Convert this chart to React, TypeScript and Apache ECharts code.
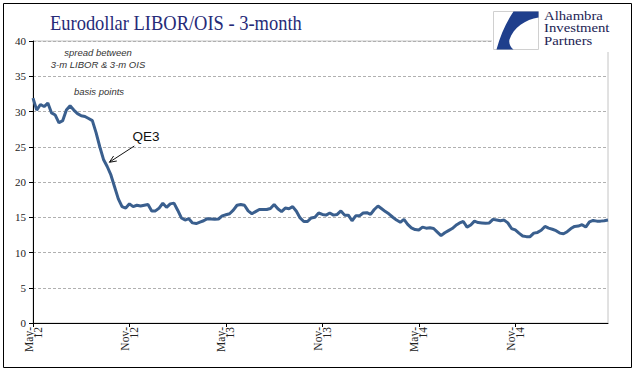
import React, { useEffect, useRef } from "react";
import * as echarts from "echarts";

// Weekly LIBOR/OIS 3-month spread (basis points), starting first week of May 2012
const spread: number[] = [
  31.9, 30.2, 31.0, 30.7, 31.2, 29.8, 29.5, 28.4, 28.7, 30.2,
  30.8, 30.2, 29.7, 29.4, 29.3, 29.0, 28.7, 27.0, 25.0, 23.2,
  22.2, 21.0, 19.3, 17.6, 16.5, 16.3, 16.9, 16.5, 16.7, 16.6,
  16.7, 16.8, 15.9, 15.9, 16.3, 17.0, 16.4, 16.9, 17.0, 16.0,
  14.9, 14.6, 14.8, 14.2, 14.1, 14.3, 14.5, 14.8, 14.75, 14.7,
  14.75, 15.2, 15.35, 15.5, 16.0, 16.7, 16.8, 16.7, 15.9, 15.5,
  15.8, 16.1, 16.1, 16.1, 16.25, 16.8, 16.2, 15.8, 16.3, 16.2,
  16.5, 15.85, 14.9, 14.4, 14.4, 14.9, 15.0, 15.6, 15.4, 15.3,
  15.6, 15.3, 15.4, 15.9, 15.3, 15.3, 14.5, 15.2, 15.2, 15.6,
  15.65, 15.4, 16.1, 16.6, 16.2, 15.8, 15.45, 15.0, 14.6, 14.3,
  14.7, 14.0, 13.5, 13.25, 13.2, 13.6, 13.45, 13.5, 13.4, 12.9,
  12.4, 12.8, 13.1, 13.4, 13.85, 14.2, 14.4, 13.6, 13.9, 14.45,
  14.25, 14.2, 14.15, 14.2, 14.7, 14.6, 14.5, 14.6, 14.2, 13.4,
  13.2, 12.75, 12.35, 12.25, 12.25, 12.75, 12.85, 13.15, 13.7, 13.45,
  13.3, 13.1, 12.75, 12.65, 12.95, 13.4, 13.7, 13.75, 13.95, 13.6,
  14.35, 14.55, 14.45, 14.45, 14.5, 14.6,
];

const startDateUTC = Date.UTC(2012, 4, 4);
const weeks: string[] = spread.map((_, i) => {
  const d = new Date(startDateUTC + i * 7 * 86400000);
  return d.toISOString().slice(0, 10);
});

const tickLabels = ["May-12", "Nov-12", "May-13", "Nov-13", "May-14", "Nov-14"];
const tickWeeks = [0, 26, 52, 78, 104, 130];

const titleText = "Eurodollar LIBOR/OIS - 3-month";
const noteLines = ["spread between", "3-m LIBOR & 3-m OIS"];
const unitText = "basis points";
const qeText = "QE3";
const logoLines = ["Alhambra", "Investment", "Partners"];

const logoPath =
  "M20 0 L45 0 L45 6 C32 8 20 16 16 28 C15 32 17 36 20 38 L3 38 C7 24 12 12 20 0 Z";

let registered = false;
function registerLogo() {
  if (registered) return;
  echarts.graphic.registerShape("logo", echarts.graphic.extendPath(logoPath, {}) as any);
  registered = true;
}

export default function App() {
  const ref = useRef<HTMLDivElement>(null);
  useEffect(() => {
    if (!ref.current) return;
    registerLogo();
    const chart = echarts.init(ref.current, undefined, { renderer: "svg" });
    const serif = "Liberation Serif";
    const logoText = (i: number, y: number) => ({
      type: "text",
      x: 544,
      y,
      z: 12,
      scaleX: 1.18,
      style: {
        text: logoLines[i],
        font: `12.5px "${serif}"`,
        fill: "#1c2454",
        align: "left",
        verticalAlign: "middle",
      },
    });
    chart.setOption({
      animation: false,
      backgroundColor: "#ffffff",
      grid: {
        left: 33,
        right: 33,
        top: 41,
        bottom: 49,
        show: true,
        borderColor: "#c4c4c4",
        borderWidth: 1,
        backgroundColor: "transparent",
      },
      xAxis: {
        type: "category",
        data: weeks,
        boundaryGap: false,
        axisLine: { show: true, lineStyle: { color: "#000", width: 1 } },
        axisTick: {
          show: true,
          length: 4,
          interval: (i: number) => tickWeeks.includes(i),
          lineStyle: { color: "#000" },
        },
        axisLabel: {
          interval: (i: number) => tickWeeks.includes(i),
          rotate: 90,
          margin: 4,
          fontFamily: serif,
          fontSize: 11.5,
          lineHeight: 9,
          color: "#222",
          formatter: (_v: string, i: number) => {
            const k = tickWeeks.indexOf(i);
            return k >= 0 ? tickLabels[k].replace("-", "-\n") : "";
          },
        },
        splitLine: { show: false },
      },
      yAxis: {
        type: "value",
        min: 0,
        max: 40,
        interval: 5,
        axisLine: { show: true, lineStyle: { color: "#000", width: 1 } },
        axisTick: { show: true, length: 4, lineStyle: { color: "#000" } },
        axisLabel: { fontFamily: serif, fontSize: 11, color: "#222", margin: 7 },
        splitLine: { show: true, lineStyle: { color: "#b0b0b0", type: [3, 2], width: 1 } },
      },
      series: [
        {
          type: "line",
          data: spread,
          showSymbol: false,
          symbol: "none",
          lineStyle: { color: "#3a5f8e", width: 3 },
          z: 3,
        },
      ],
      graphic: [
        {
          type: "rect",
          shape: { x: 3.5, y: 3.5, width: 628, height: 364 },
          style: { fill: "none", stroke: "#000", lineWidth: 1 },
          silent: true,
        },
        {
          type: "text",
          x: 50,
          y: 22,
          scaleX: 0.84,
          style: {
            text: titleText,
            font: `22px "${serif}"`,
            fill: "#262a78",
            verticalAlign: "middle",
            align: "left",
          },
        },
        {
          type: "rect",
          shape: { x: 492, y: 8, width: 130, height: 44 },
          style: { fill: "#fff" },
          z: 10,
        },
        {
          type: "rect",
          shape: { x: 493.5, y: 11.5, width: 45, height: 38 },
          style: { fill: "#fff", stroke: "#d0d0d0", lineWidth: 1 },
          z: 11,
        },
        {
          type: "logo",
          x: 493.5,
          y: 11.5,
          scaleX: 1,
          scaleY: 1,
          style: { fill: "#1f3f8c" },
          z: 12,
        },
        logoText(0, 15.5),
        logoText(1, 28),
        logoText(2, 40.5),
        {
          type: "text",
          x: 98,
          y: 58,
          style: {
            text: noteLines.join("\n"),
            font: `italic 9.5px "Liberation Sans"`,
            lineHeight: 12,
            fill: "#333",
            align: "center",
            verticalAlign: "middle",
          },
        },
        {
          type: "text",
          x: 99,
          y: 91,
          style: {
            text: unitText,
            font: `italic 9.5px "Liberation Sans"`,
            fill: "#333",
            align: "center",
            verticalAlign: "middle",
          },
        },
        {
          type: "text",
          x: 146,
          y: 136,
          style: {
            text: qeText,
            font: `13.5px "Liberation Sans"`,
            fill: "#111",
            align: "center",
            verticalAlign: "middle",
          },
        },
        {
          type: "line",
          shape: { x1: 134.3, y1: 146, x2: 110, y2: 161.8 },
          style: { stroke: "#111", lineWidth: 1 },
        },
        {
          type: "polyline",
          shape: { points: [[113.6, 156], [109.3, 162.3], [116.8, 161]] },
          style: { stroke: "#111", lineWidth: 1, fill: "none" },
        },
      ],
    });
    return () => chart.dispose();
  }, []);
  return (
    <div
      ref={ref}
      style={{ position: "fixed", left: 0, top: 0, width: 641, height: 372 }}
    />
  );
}
